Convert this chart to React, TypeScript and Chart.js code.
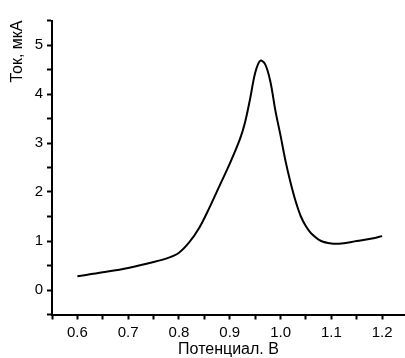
import React, { useEffect, useRef } from "react";
import { Chart, registerables } from "chart.js";

Chart.register(...registerables);

const potential = [0.6, 0.65, 0.7, 0.75, 0.78, 0.8, 0.82, 0.84, 0.86, 0.88, 0.9, 0.92, 0.93, 0.94, 0.95, 0.96, 0.97, 0.98, 0.99, 1.0, 1.01, 1.02, 1.03, 1.04, 1.05, 1.06, 1.08, 1.1, 1.12, 1.15, 1.18, 1.2];
const current = [0.28, 0.36, 0.45, 0.57, 0.66, 0.76, 0.97, 1.27, 1.68, 2.13, 2.58, 3.08, 3.42, 3.9, 4.43, 4.68, 4.6, 4.25, 3.65, 3.15, 2.62, 2.18, 1.8, 1.5, 1.3, 1.16, 1.0, 0.95, 0.95, 1.0, 1.05, 1.1];

const xTitle = "Потенциал. В";
const yTitle = "Ток, мкА";
const xMin = 0.55;
const xMax = 1.245;
const xStep = 0.05;
const xLastTick = 1.2;
const yMin = -0.5;
const yMax = 5.5;
const yStep = 0.5;

const FONT = "'Liberation Sans', Arial, sans-serif";

function stepTicks(from: number, to: number, step: number) {
  const out: { value: number }[] = [];
  const n = Math.round((to - from) / step);
  for (let i = 0; i <= n; i++) out.push({ value: Math.round((from + i * step) * 1000) / 1000 });
  return out;
}

export default function App() {
  const ref = useRef<HTMLCanvasElement | null>(null);
  useEffect(() => {
    if (!ref.current) return;
    Chart.defaults.color = "#000";
    const chart = new Chart(ref.current, {
      type: "line",
      data: {
        datasets: [
          {
            data: potential.map((x, i) => ({ x, y: current[i] })),
            borderColor: "#000",
            borderWidth: 2,
            pointRadius: 0,
            tension: 0.35,
            fill: false,
          },
        ],
      },
      options: {
        animation: false,
        responsive: false,
        plugins: { legend: { display: false }, tooltip: { enabled: false } },
        layout: { autoPadding: false, padding: { top: 20.5, right: 0, left: 0, bottom: 0 } },
        scales: {
          x: {
            type: "linear",
            min: xMin,
            max: xMax,
            afterFit: (s: any) => {
              s.height = 43.5;
            },
            afterBuildTicks: (s: any) => {
              s.ticks = stepTicks(xMin, xLastTick, xStep);
            },
            border: { display: true, color: "#000", width: 2 },
            grid: { display: true, drawOnChartArea: false, drawTicks: true, tickLength: 5, tickColor: "#000", tickWidth: 2 },
            ticks: {
              autoSkip: false,
              maxRotation: 0,
              padding: 4,
              color: "#000",
              font: { family: FONT, size: 15 },
              callback: (v: any) => {
                const t = Number(v) * 10;
                return Math.abs(t - Math.round(t)) < 1e-6 ? Number(v).toFixed(1) : "";
              },
            },
            title: { display: true, text: xTitle, color: "#000", font: { family: FONT, size: 16, lineHeight: 1.0 }, padding: 0 },
          },
          y: {
            type: "linear",
            min: yMin,
            max: yMax,
            afterFit: (s: any) => {
              s.width = 52;
            },
            afterBuildTicks: (s: any) => {
              s.ticks = stepTicks(yMin, yMax, yStep);
            },
            border: { display: true, color: "#000", width: 2 },
            grid: { display: true, drawOnChartArea: false, drawTicks: true, tickLength: 5, tickColor: "#000", tickWidth: 2 },
            ticks: {
              autoSkip: false,
              padding: 4,
              color: "#000",
              font: { family: FONT, size: 15 },
              callback: (v: any) => (Math.abs(Number(v) - Math.round(Number(v))) < 1e-6 ? String(Math.round(Number(v))) : ""),
            },
            title: { display: true, text: yTitle, align: "end", color: "#000", font: { family: FONT, size: 16 }, padding: { top: 8, bottom: 0 } },
          },
        },
      },
    });
    return () => chart.destroy();
  }, []);
  return (
    <div style={{ position: "absolute", left: 0, top: 0, width: 405, height: 358, background: "#fff" }}>
      <canvas ref={ref} width={405} height={358} style={{ display: "block" }} />
    </div>
  );
}
